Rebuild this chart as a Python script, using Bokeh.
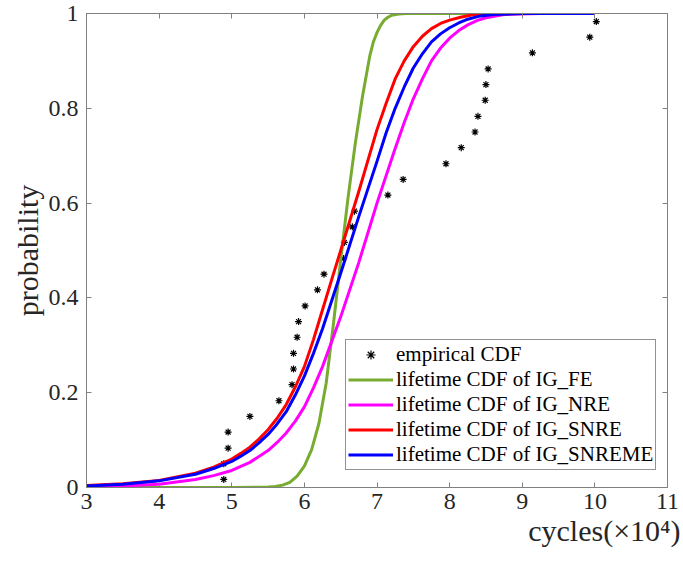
from bokeh.plotting import figure
from bokeh.models import Range1d, FixedTicker, LinearAxis, Title, Legend, LegendItem
from bokeh.embed import file_html
from bokeh.resources import INLINE

# ---- data ----
emp_x = [4.89, 4.89, 4.95, 4.95, 5.25, 5.65, 5.83, 5.85, 5.85, 5.90,
         5.92, 6.01, 6.18, 6.27, 6.54, 6.55, 6.66, 6.69, 7.15, 7.36,
         7.95, 8.16, 8.35, 8.39, 8.49, 8.50, 8.53, 9.14, 9.93, 10.02]
emp_y = [0.017, 0.050, 0.083, 0.117, 0.150, 0.183, 0.217, 0.250, 0.283, 0.317,
         0.350, 0.383, 0.417, 0.450, 0.483, 0.517, 0.550, 0.583, 0.617, 0.650,
         0.683, 0.717, 0.750, 0.783, 0.817, 0.850, 0.883, 0.917, 0.950, 0.983]

fe_x = [3.0, 5.0, 5.5, 5.6, 5.7, 5.8, 5.9, 6.0, 6.1, 6.2, 6.3, 6.4, 6.5, 6.6,
        6.7, 6.8, 6.9, 6.95, 7.0, 7.05, 7.1, 7.15, 7.2, 7.3, 7.4, 10.0]
fe_y = [0.0, 0.0, 0.001, 0.002, 0.005, 0.011, 0.024, 0.045, 0.08, 0.135, 0.22,
        0.345, 0.48, 0.61, 0.725, 0.825, 0.91, 0.94, 0.96, 0.975, 0.986, 0.992,
        0.996, 0.999, 1.0, 1.0]

nre_x = [3.0, 3.5, 4.0, 4.5, 4.75, 5.0, 5.25, 5.5, 5.625, 5.75, 5.875, 6.0,
         6.125, 6.25, 6.5, 6.75, 7.0, 7.25, 7.375, 7.5, 7.625, 7.75, 7.875,
         8.0, 8.125, 8.25, 8.375, 8.5, 8.75, 9.25, 10.0]
nre_y = [0.001, 0.003, 0.007, 0.017, 0.025, 0.036, 0.053, 0.078, 0.095, 0.115,
         0.14, 0.17, 0.21, 0.255, 0.36, 0.475, 0.6, 0.715, 0.77, 0.82, 0.862,
         0.9, 0.927, 0.948, 0.964, 0.976, 0.985, 0.991, 0.998, 1.0, 1.0]

snre_x = [3.0, 3.5, 4.0, 4.5, 4.75, 5.0, 5.125, 5.25, 5.375, 5.5, 5.625, 5.75,
          5.875, 6.0, 6.125, 6.25, 6.375, 6.5, 6.75, 7.0, 7.125, 7.25, 7.375,
          7.5, 7.625, 7.75, 7.875, 8.0, 8.15, 8.3, 8.6, 9.0, 10.0]
snre_y = [0.004, 0.008, 0.015, 0.03, 0.043, 0.06, 0.072, 0.085, 0.102, 0.122,
          0.146, 0.175, 0.212, 0.255, 0.312, 0.375, 0.438, 0.5, 0.625, 0.755,
          0.81, 0.862, 0.9, 0.93, 0.952, 0.968, 0.979, 0.986, 0.992, 0.997,
          0.999, 1.0, 1.0]

snreme_x = [3.0, 3.5, 4.0, 4.5, 4.75, 5.0, 5.125, 5.25, 5.375, 5.5, 5.625,
            5.75, 5.875, 6.0, 6.125, 6.25, 6.5, 6.75, 7.0, 7.125, 7.25, 7.375,
            7.5, 7.625, 7.75, 7.875, 8.0, 8.125, 8.25, 8.4, 8.6, 9.0, 10.0]
snreme_y = [0.003, 0.007, 0.014, 0.028, 0.04, 0.055, 0.066, 0.078, 0.094, 0.112,
            0.134, 0.16, 0.195, 0.235, 0.283, 0.335, 0.452, 0.572, 0.688, 0.748,
            0.8, 0.845, 0.885, 0.915, 0.94, 0.957, 0.97, 0.98, 0.988, 0.994,
            0.998, 1.0, 1.0]

x_ticks = [3, 4, 5, 6, 7, 8, 9, 10, 11]
x_tick_labels = ["3", "4", "5", "6", "7", "8", "9", "10", "11"]
y_ticks = [0, 0.2, 0.4, 0.6, 0.8, 1]
y_tick_labels = ["0", "0.2", "0.4", "0.6", "0.8", "1"]

legend_labels = ["empirical CDF", "lifetime CDF of IG_FE", "lifetime CDF of IG_NRE",
                 "lifetime CDF of IG_SNRE", "lifetime CDF of IG_SNREME"]

FONT = "Liberation Serif"
AX = "#808080"
TXT = "#262626"

p = figure(frame_width=581, frame_height=474, output_backend="svg",
           toolbar_location=None, x_range=Range1d(3, 11), y_range=Range1d(0, 1),
           min_border_left=86, min_border_right=16, min_border_top=13,
           min_border_bottom=76)
p.grid.visible = False
p.outline_line_color = AX
p.background_fill_color = "white"
p.border_fill_color = "white"

r_emp = p.scatter(emp_x, emp_y, marker="asterisk", size=7, line_color="black",
                  line_width=1.2)
r_fe = p.line(fe_x, fe_y, line_color="#77AC30", line_width=3, line_join="round")
r_nre = p.line(nre_x, nre_y, line_color="#FF00FF", line_width=3, line_join="round")
r_snre = p.line(snre_x, snre_y, line_color="#FF0000", line_width=3, line_join="round")
r_snreme = p.line(snreme_x, snreme_y, line_color="#0000FF", line_width=3,
                  line_join="round")


def style_axis(ax, ticks, labels, show_labels):
    ax.ticker = FixedTicker(ticks=ticks)
    ax.axis_line_color = AX
    ax.major_tick_line_color = AX
    ax.major_tick_in = 5
    ax.major_tick_out = 0
    ax.minor_tick_line_color = None
    ax.major_label_text_font = FONT
    if show_labels:
        ax.major_label_overrides = {t: l for t, l in zip(ticks, labels)}
        ax.major_label_text_color = TXT
        ax.major_label_text_font_size = "24px"
    else:
        ax.major_label_text_color = None
        ax.major_label_text_font_size = "1px"
        ax.major_label_standoff = 0


style_axis(p.xaxis[0], x_ticks, x_tick_labels, True)
style_axis(p.yaxis[0], y_ticks, y_tick_labels, True)
p.xaxis[0].major_label_standoff = 6
p.yaxis[0].major_label_standoff = 8

p.yaxis[0].axis_label = "probability"
p.yaxis[0].axis_label_text_font = FONT
p.yaxis[0].axis_label_text_font_style = "normal"
p.yaxis[0].axis_label_text_font_size = "30px"
p.yaxis[0].axis_label_text_color = TXT
p.yaxis[0].axis_label_standoff = 2

top = LinearAxis()
right = LinearAxis()
style_axis(top, x_ticks, x_tick_labels, False)
style_axis(right, y_ticks, y_tick_labels, False)
p.add_layout(top, "above")
p.add_layout(right, "right")

xlab = Title(text="cycles(\u00d710\u2074)", align="right", offset=-13,
             text_font=FONT, text_font_size="30px", text_font_style="normal",
             text_color=TXT, standoff=0)
p.add_layout(xlab, "below")

legend = Legend(items=[
    LegendItem(label=legend_labels[0], renderers=[r_emp]),
    LegendItem(label=legend_labels[1], renderers=[r_fe]),
    LegendItem(label=legend_labels[2], renderers=[r_nre]),
    LegendItem(label=legend_labels[3], renderers=[r_snre]),
    LegendItem(label=legend_labels[4], renderers=[r_snreme]),
], location=(259, 17))
legend.label_text_font = FONT
legend.label_text_font_size = "21px"
legend.label_text_color = "black"
legend.label_height = 23
legend.glyph_height = 23
legend.glyph_width = 45
legend.label_standoff = 3
legend.spacing = 0
legend.padding = 2
legend.margin = 0
legend.border_line_color = TXT
legend.border_line_width = 1
legend.background_fill_alpha = 1
p.add_layout(legend)

open("out.html", "w").write(file_html(p, INLINE))
